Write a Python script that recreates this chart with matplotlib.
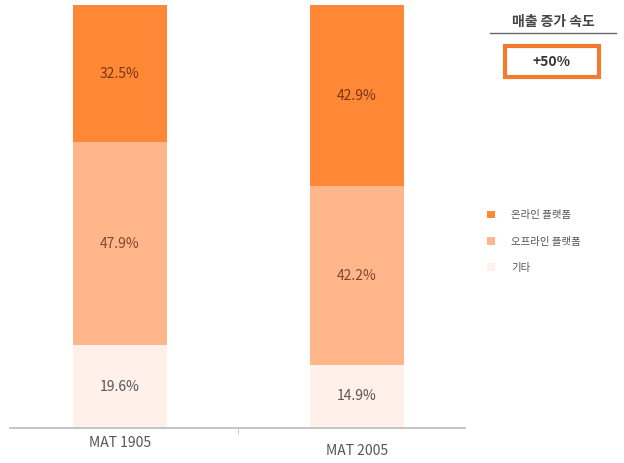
import matplotlib
matplotlib.use("Agg")
import matplotlib.pyplot as plt
from matplotlib.patches import Rectangle

plt.rcParams['font.family'] = ['Noto Sans CJK KR', 'DejaVu Sans']

categories = ["MAT 1905", "MAT 2005"]
series_names = ["온라인 플랫폼", "오프라인 플랫폼", "기타"]
online = [32.5, 42.9]
offline = [47.9, 42.2]
other = [19.6, 14.9]
growth_title = "매출 증가 속도"
growth_value = "+50%"

colors = ["#FF8837", "#FFB68B", "#FFF0E9"]
text_colors = ["#7A3410", "#80462C", "#555555"]

fig = plt.figure(figsize=(6.24, 4.63), dpi=100)
ax = fig.add_axes([10/624, 35/463, 455/624, 423/463])

x = list(range(len(categories)))
width = 0.40
stack = [other, offline, online]
stack_colors = [colors[2], colors[1], colors[0]]
stack_tc = [text_colors[2], text_colors[1], text_colors[0]]
stack_names = [series_names[2], series_names[1], series_names[0]]
bottom = [0.0] * len(categories)
handles = {}
for vals, c, tc, name in zip(stack, stack_colors, stack_tc, stack_names):
    bars = ax.bar(x, vals, width, bottom=bottom, color=c, edgecolor='none', label=name)
    handles[name] = bars
    for xi, v, b in zip(x, vals, bottom):
        ax.text(xi, b + v / 2, f"{v}%", ha='center', va='center', fontsize=10, color=tc)
    bottom = [b + v for b, v in zip(bottom, vals)]

ax.set_xlim(-0.464, 1.456)
ax.set_ylim(0, 100)
for s in ['top', 'right', 'left']:
    ax.spines[s].set_visible(False)
ax.spines['bottom'].set_color('#BBBBBB')
ax.spines['bottom'].set_linewidth(1.2)
ax.set_yticks([])
ax.set_xticks([0.5])
ax.set_xticklabels([""])
ax.tick_params(axis='x', length=4, color='#CCCCCC')

ax.text(0, -1.8, categories[0], ha='center', va='top', fontsize=10, color='#555555')
ax.text(1, -3.8, categories[1], ha='center', va='top', fontsize=10, color='#555555')

leg = fig.legend([handles[n] for n in series_names], series_names,
                 loc='upper left', bbox_to_anchor=(478/624, 1 - 201/463),
                 frameon=False, fontsize=7.5, handlelength=0.7, handleheight=0.7,
                 labelspacing=1.55, handletextpad=1.6, labelcolor='#555555')

fig.text(553/624, 1 - 22/463, growth_title, ha='center', va='center', fontsize=10,
         fontweight='bold', style='italic', color='#444444')
fig.add_artist(plt.Line2D([490/624, 616/624], [1 - 33/463, 1 - 33/463],
                          transform=fig.transFigure, color='#666666', linewidth=1))
fig.add_artist(Rectangle((505/624, 1 - 77/463), 94/624, 31/463, transform=fig.transFigure,
                         facecolor='white', edgecolor='#F07C2C', linewidth=3))
fig.text(552/624, 1 - 62/463, growth_value, ha='center', va='center', fontsize=10,
         fontweight='bold', style='italic', color='#333333')

fig.savefig("out.png", dpi=100)
